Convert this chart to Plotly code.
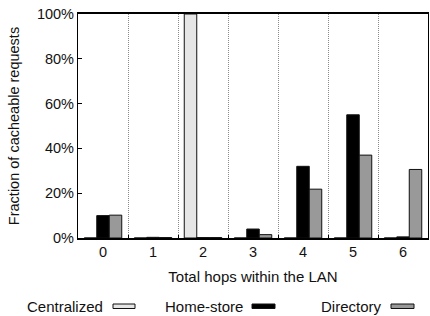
import plotly.graph_objects as go

hops = [0, 1, 2, 3, 4, 5, 6]
centralized = [0.0, 0.0, 100.0, 0.0, 0.0, 0.0, 0.0]
home_store = [10.0, 0.3, 0.2, 4.0, 32.0, 55.0, 0.5]
directory = [10.2, 0.2, 0.2, 1.5, 21.8, 37.0, 30.6]
series_names = ["Centralized", "Home-store", "Directory"]
colors = ["#e6e6e6", "#000000", "#999999"]
y_ticks = [0, 20, 40, 60, 80, 100]

FONT = "Liberation Sans, Arial, sans-serif"
L, R, T, B = 78, 2, 14, 78
W, H = 430, 316
PW, PH = W - L - R, H - T - B

fig = go.Figure()
for name, vals, col in zip(series_names, [centralized, home_store, directory], colors):
    fig.add_trace(go.Bar(
        x=hops, y=vals, name=name,
        marker=dict(color=col, line=dict(color="#111111", width=1)),
        showlegend=False,
    ))

fig.update_layout(
    width=W, height=H,
    margin=dict(l=L, r=R, t=T, b=B),
    plot_bgcolor="white", paper_bgcolor="white",
    barmode="group", bargap=0.25, bargroupgap=0,
    font=dict(family=FONT, size=14.5, color="#111111"),
)
fig.update_xaxes(
    range=[-0.5, 6.5], tickvals=hops, ticktext=[str(h) for h in hops],
    showline=True, linecolor="black", linewidth=1.5, mirror=True,
    showgrid=False, ticks="", zeroline=False,
    title=dict(text="Total hops within the LAN", standoff=12, font=dict(size=15)),
    minor=dict(tickvals=[h + 0.5 for h in hops[:-1]], showgrid=True,
               gridcolor="#8a8a8a", griddash="1px,1px", gridwidth=1,
               ticks="inside", ticklen=3, tickcolor="black"),
)
fig.update_yaxes(
    range=[0, 100], tickvals=y_ticks, ticktext=[f"{t}%" for t in y_ticks],
    showline=True, linecolor="black", linewidth=1.2, mirror=True,
    showgrid=False, ticks="inside", ticklen=4, tickcolor="black", zeroline=False,
    title=dict(text="Fraction of cacheable requests", standoff=13, font=dict(size=14.5)),
)

# custom legend: label followed by swatch (pixel positions converted to paper coords)
legend_items = [
    (series_names[0], colors[0], 103, 113, 135),
    (series_names[1], colors[1], 243, 252, 275),
    (series_names[2], colors[2], 382, 391, 414),
]
for name, col, text_right, sx0, sx1 in legend_items:
    fig.add_annotation(
        xref="paper", yref="paper",
        x=(text_right - L) / PW, y=(H - B - 306) / PH,
        text=name, showarrow=False, xanchor="right", yanchor="middle",
        xshift=2,
        font=dict(size=15, family=FONT, color="#111111"),
    )
    fig.add_shape(
        type="rect", xref="paper", yref="paper",
        x0=(sx0 - L) / PW, x1=(sx1 - L) / PW,
        y0=(H - B - 308.5) / PH, y1=(H - B - 304) / PH,
        fillcolor=col, line=dict(color="#111111", width=1),
    )

fig.write_html(
    "out.html",
    config={"displayModeBar": False},
    post_script="document.body.style.margin='0';document.body.style.padding='0';document.body.style.overflow='hidden';",
)
